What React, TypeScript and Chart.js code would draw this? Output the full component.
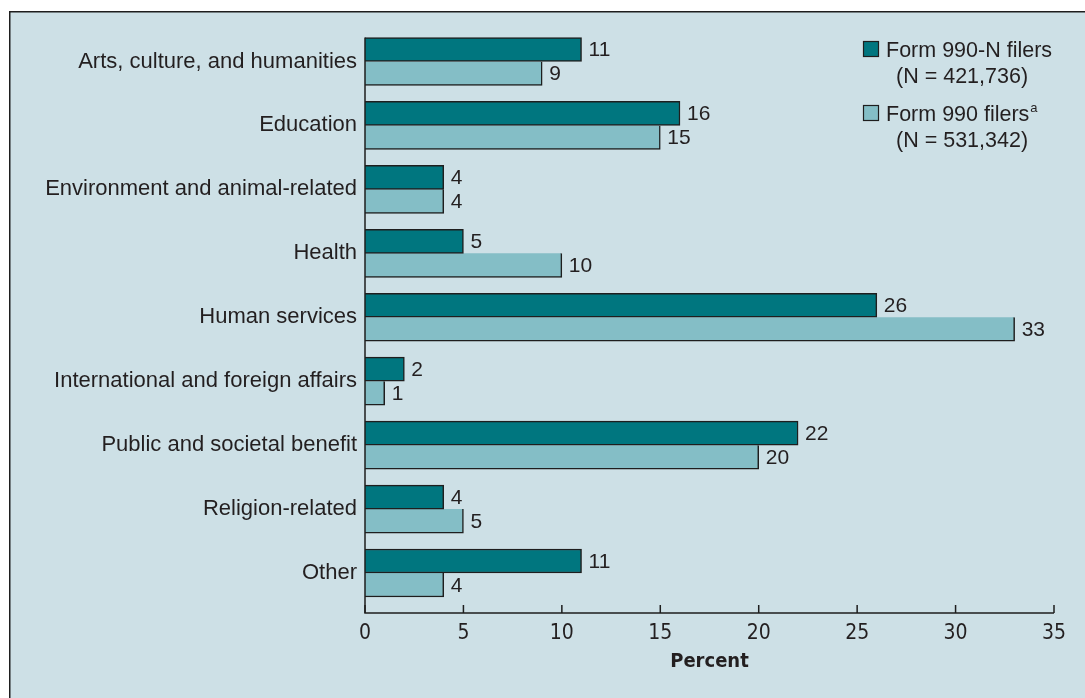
import React, { useEffect, useRef } from "react";
import { Chart, registerables } from "chart.js";

Chart.register(...registerables);

const categories = [
  "Arts, culture, and humanities",
  "Education",
  "Environment and animal-related",
  "Health",
  "Human services",
  "International and foreign affairs",
  "Public and societal benefit",
  "Religion-related",
  "Other",
];
const form990N = [11, 16, 4, 5, 26, 2, 22, 4, 11];
const form990 = [9, 15, 4, 10, 33, 1, 20, 5, 4];
const seriesNames = ["Form 990-N filers", "Form 990 filers"];
const seriesNotes = ["(N = 421,736)", "(N = 531,342)"];
const seriesSup = ["", "a"];
const xTicks = [0, 5, 10, 15, 20, 25, 30, 35];

const FONT = "'Liberation Sans', Arial, Helvetica, sans-serif";
const NARROW = "'Liberation Sans Narrow', 'Arial Narrow', 'DejaVu Sans Condensed', 'Liberation Sans', sans-serif";
const TEXT = "#231f20";
const DARK = "#00767f";
const LIGHT = "#84bec6";
const EDGE = "#1e1e1e";
const BG = "#cde0e6";

const decorPlugin = {
  id: "decor",
  beforeDraw(chart: any) {
    const { ctx, width, height } = chart;
    ctx.save();
    ctx.fillStyle = "#ffffff";
    ctx.fillRect(0, 0, width, height);
    ctx.fillStyle = BG;
    ctx.fillRect(9, 11, width - 9, height - 11);
    ctx.strokeStyle = EDGE;
    ctx.lineWidth = 1.5;
    ctx.beginPath();
    ctx.moveTo(9.75, height);
    ctx.lineTo(9.75, 11.75);
    ctx.lineTo(width, 11.75);
    ctx.stroke();
    ctx.restore();
  },
  afterDatasetsDraw(chart: any) {
    const { ctx } = chart;
    ctx.save();
    ctx.fillStyle = TEXT;
    ctx.font = `21px ${FONT}`;
    ctx.textAlign = "left";
    ctx.textBaseline = "middle";
    chart.data.datasets.forEach((ds: any, di: number) => {
      const meta = chart.getDatasetMeta(di);
      meta.data.forEach((bar: any, i: number) => {
        ctx.fillText(String(ds.data[i]), bar.x + 7, bar.y + 1);
      });
    });
    ctx.restore();
  },
  afterDraw(chart: any) {
    const { ctx, chartArea } = chart;
    const xs = chart.scales.x;
    const first = chart.getDatasetMeta(0).data[0];
    const axisY = chartArea.bottom + 8;
    const topY = first.y - first.height / 2;
    ctx.save();
    ctx.strokeStyle = EDGE;
    ctx.lineWidth = 1.5;
    ctx.beginPath();
    ctx.moveTo(chartArea.left, topY);
    ctx.lineTo(chartArea.left, axisY);
    ctx.lineTo(xs.getPixelForValue(35), axisY);
    ctx.stroke();
    ctx.beginPath();
    xTicks.forEach((v) => {
      const px = xs.getPixelForValue(v);
      ctx.moveTo(px, axisY);
      ctx.lineTo(px, axisY - 8);
    });
    ctx.stroke();

    // legend
    const colors = [DARK, LIGHT];
    const baseY = [41, 105];
    ctx.textBaseline = "middle";
    ctx.textAlign = "left";
    seriesNames.forEach((name, i) => {
      const y = baseY[i];
      ctx.fillStyle = colors[i];
      ctx.fillRect(863, y, 16, 16);
      ctx.strokeStyle = EDGE;
      ctx.lineWidth = 1.2;
      ctx.strokeRect(863.5, y + 0.5, 15, 15);
      ctx.fillStyle = TEXT;
      ctx.font = `21.5px ${FONT}`;
      ctx.fillText(name, 886, y + 10);
      const w = ctx.measureText(name).width;
      if (seriesSup[i]) {
        ctx.font = `13px ${FONT}`;
        ctx.fillText(seriesSup[i], 886 + w + 1, y + 3);
      }
      ctx.font = `21.5px ${FONT}`;
      ctx.fillText(seriesNotes[i], 896, y + 36);
    });
    ctx.restore();
  },
};

export default function App() {
  const ref = useRef<HTMLCanvasElement>(null);
  useEffect(() => {
    if (!ref.current) return;
    const chart = new Chart(ref.current, {
      type: "bar",
      data: {
        labels: categories,
        datasets: [
          {
            label: seriesNames[0],
            data: form990N,
            backgroundColor: DARK,
            borderColor: EDGE,
            borderWidth: { top: 1.5, right: 1.5, bottom: 1.5, left: 0 },
            borderSkipped: false,
            barThickness: 24,
          },
          {
            label: seriesNames[1],
            data: form990,
            backgroundColor: LIGHT,
            borderColor: EDGE,
            borderWidth: { top: 0, right: 1.5, bottom: 1.5, left: 0 },
            borderSkipped: false,
            barThickness: 24,
          },
        ],
      },
      options: {
        indexAxis: "y",
        responsive: false,
        animation: false,
        layout: { padding: { top: 29.5, right: 31, left: 0, bottom: 0 } },
        plugins: {
          legend: { display: false },
          tooltip: { enabled: false },
        },
        scales: {
          y: {
            type: "category",
            offset: true,
            grid: { display: false, drawTicks: false },
            border: { display: false },
            ticks: {
              color: TEXT,
              font: { family: FONT, size: 22 },
              padding: 8,
            },
            afterFit: (s: any) => {
              s.width = 365;
            },
          },
          x: {
            type: "linear",
            min: 0,
            max: 35,
            grid: { display: false, drawTicks: false },
            border: { display: false },
            ticks: {
              stepSize: 5,
              color: TEXT,
              font: { family: NARROW, size: 21 },
              padding: 16,
            },
            title: {
              display: true,
              text: "Percent",
              color: TEXT,
              font: { family: NARROW, size: 20, weight: "bold" },
              padding: { top: 0, bottom: 24 },
            },
            afterFit: (s: any) => {
              s.height = 93;
            },
          },
        },
      },
      plugins: [decorPlugin],
    });
    return () => chart.destroy();
  }, []);
  return (
    <div style={{ position: "fixed", left: 0, top: 0, width: 1085, height: 698 }}>
      <canvas ref={ref} width={1085} height={698} style={{ display: "block" }} />
    </div>
  );
}
